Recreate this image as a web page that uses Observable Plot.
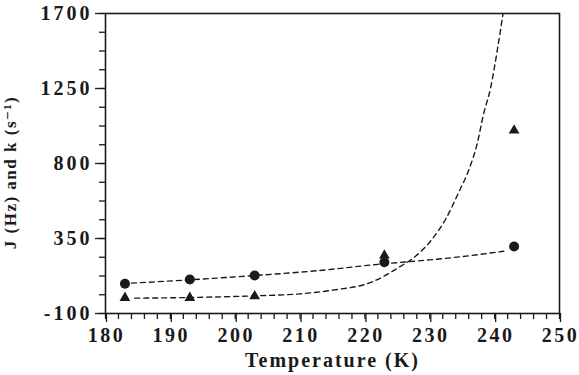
<!DOCTYPE html>
<html>
<head>
<meta charset="utf-8">
<script src="https://cdn.jsdelivr.net/npm/d3@7"></script>
<script src="https://cdn.jsdelivr.net/npm/@observablehq/plot@0.6"></script>
<style>
  html, body { margin: 0; padding: 0; background: #fff; }
  svg g[aria-label="x-axis tick label"] text { letter-spacing: 2.5px; }
  svg g[aria-label="y-axis tick label"] text { letter-spacing: 3px; }
  svg g.x-title text { letter-spacing: 2px; }
  svg g.y-title text { letter-spacing: 1.5px; }
</style>
</head>
<body>
<div id="chart"></div>
<script>
// Measured points
const temps = [183, 193, 203, 223, 243];
const jValues = [78, 104, 128, 208, 302];   // circles
const kValues = [-6, -6, 4, 248, 998];      // triangles

// Dashed fit curves
const jFitT = [184, 193, 203, 213, 222, 230, 236, 241.4];
const jFitV = [82, 102, 128, 158, 195, 222, 246, 274];
const kFitT = [184.5, 193, 203, 210, 215, 221, 225.7, 227.3, 230.4, 232.5, 234.5, 236, 237.3, 238.3, 239.4, 240.4, 241.3];
const kFitV = [-8, -4, 6, 18, 40, 88, 188, 228, 348, 470, 630, 760, 918, 1098, 1258, 1478, 1700];

// Axis ticks and titles
const xMajor = [180, 190, 200, 210, 220, 230, 240, 250];
const xMinor = d3.range(180, 250.01, 2);
const yMajor = [-100, 350, 800, 1250, 1700];
const yMinor = d3.range(-100, 1700.01, 112.5);
const xTitle = ["Temperature (K)"];
const yTitle = ["J (Hz) and k (s⁻¹)"];

const points = temps.map((t, i) => ({t, j: jValues[i], k: kValues[i]}));
const jFit = jFitT.map((t, i) => ({t, v: jFitV[i]}));
const kFit = kFitT.map((t, i) => ({t, v: kFitV[i]}));

const ink = "#1a1a1a";

const chart = Plot.plot({
  width: 579,
  height: 375,
  marginLeft: 105,
  marginRight: 20,
  marginTop: 13,
  marginBottom: 62,
  style: {fontFamily: "'Liberation Serif', 'DejaVu Serif', serif", fontWeight: "bold", color: ink, background: "#fff"},
  x: {domain: [180, 250]},
  y: {domain: [-100, 1700]},
  marks: [
    Plot.axisX({ticks: xMinor, tickSize: 6, text: null, label: null, strokeWidth: 1.3}),
    Plot.axisX({ticks: xMajor, tickSize: 9, tickPadding: 5, fontSize: 20, dx: 1, tickFormat: d => String(d), label: null, strokeWidth: 1.3}),
    Plot.axisY({ticks: yMinor, tickSize: 6, text: null, label: null, strokeWidth: 1.3}),
    Plot.axisY({ticks: yMajor, tickSize: 10, tickPadding: 3, fontSize: 20, tickFormat: d => String(d), label: null, strokeWidth: 1.3}),
    Plot.text(xTitle, {text: d => d, frameAnchor: "bottom", lineAnchor: "middle", dy: 47, fontSize: 20, fontWeight: "bold", className: "x-title", fill: ink}),
    Plot.text(yTitle, {text: d => d, frameAnchor: "left", textAnchor: "middle", dx: -95, dy: 9, rotate: -90, fontSize: 17, fontWeight: "bold", className: "y-title", fill: ink}),
    Plot.frame({stroke: ink, strokeWidth: 1.6}),
    Plot.line(jFit, {x: "t", y: "v", curve: "monotone-x", stroke: ink, strokeWidth: 1.4, strokeDasharray: "5,4", clip: true}),
    Plot.line(kFit, {x: "t", y: "v", curve: "monotone-x", stroke: ink, strokeWidth: 1.4, strokeDasharray: "5,4", clip: true}),
    Plot.dot(points, {x: "t", y: "j", r: 5, symbol: "circle", fill: ink, stroke: "none"}),
    Plot.dot(points, {x: "t", y: "k", r: 4, symbol: "triangle", fill: ink, stroke: "none"})
  ]
});
document.getElementById("chart").appendChild(chart);
</script>
</body>
</html>
